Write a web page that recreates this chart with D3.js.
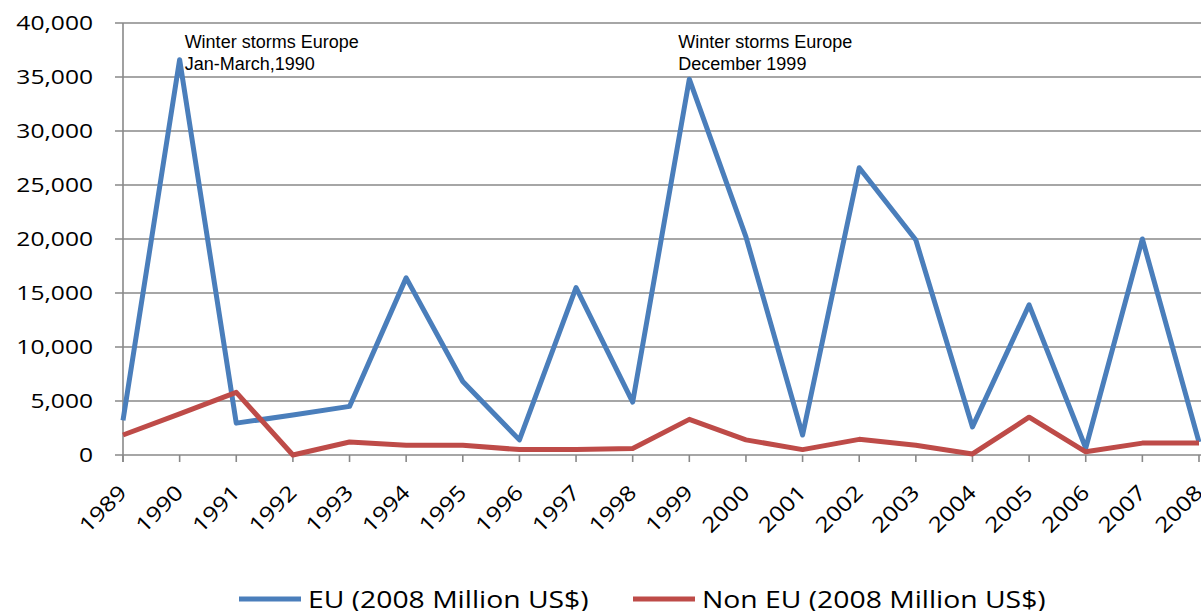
<!DOCTYPE html>
<html>
<head>
<meta charset="utf-8">
<script src="https://cdn.jsdelivr.net/npm/d3@7"></script>
<style>
  body { margin: 0; background: #fff; }
  svg { display: block; }
</style>
</head>
<body>
<div id="wrapper"></div>
<script>
const width = 1201,
    height = 611,
    margin = {top: 23, right: 1, bottom: 156, left: 123};

const years = d3.range(1989, 2009);
const euValues = [3200, 36600, 2950, 3700, 4500, 16400, 6800, 1400, 15500, 4900,
                  34800, 20200, 1850, 26600, 19900, 2600, 13900, 650, 20000, 1200];
const nonEuValues = [1850, 3800, 5800, 0, 1200, 900, 900, 500, 500, 600,
                     3300, 1400, 500, 1450, 900, 100, 3500, 300, 1100, 1100];
const yTicks = [0, 5000, 10000, 15000, 20000, 25000, 30000, 35000, 40000];
const seriesNames = ["EU (2008 Million US$)", "Non EU (2008 Million US$)"];
const seriesColors = ["#4a7ebb", "#be4b48"];
const noteYears = [1990, 1999];
const noteLines = [["Winter storms Europe", "Jan-March,1990"],
                   ["Winter storms Europe", "December 1999"]];
const noteShift = [5, -11];

const svg = d3.select("#wrapper")
    .append("svg")
    .attr("width", width)
    .attr("height", height);

const x = d3.scaleLinear()
    .domain([1989, 2008])
    .range([margin.left, width - margin.right - 1]);

const y = d3.scaleLinear()
    .domain([0, 40000])
    .range([height - margin.bottom, margin.top]);

const gridColor = "#898989";

// gridlines
svg.append("g")
    .selectAll("line")
    .data(yTicks)
    .enter().append("line")
    .attr("x1", margin.left - 8)
    .attr("x2", width)
    .attr("y1", d => y(d))
    .attr("y2", d => y(d))
    .style("stroke", gridColor)
    .style("stroke-width", 1.6);

// y axis
svg.append("line")
    .attr("x1", margin.left).attr("x2", margin.left)
    .attr("y1", y(40000)).attr("y2", y(0) + 7)
    .style("stroke", gridColor)
    .style("stroke-width", 1.6);

svg.append("g")
    .selectAll("text")
    .data(yTicks)
    .enter().append("text")
    .attr("text-anchor", "end")
    .attr("transform", d => "translate(93," + (y(d) + 7) + ") scale(1.23,1)")
    .style("font-family", "'Open Sans', sans-serif")
    .style("font-size", "20px")
    .style("fill", "#000")
    .text(d => d3.format(",")(d));

// x ticks
svg.append("g")
    .selectAll("line")
    .data(years)
    .enter().append("line")
    .attr("x1", d => x(d)).attr("x2", d => x(d))
    .attr("y1", y(0)).attr("y2", y(0) + 7)
    .style("stroke", gridColor)
    .style("stroke-width", 1.6);

svg.append("g")
    .selectAll("text")
    .data(years)
    .enter().append("text")
    .attr("text-anchor", "end")
    .attr("transform", d => "translate(" + (x(d) + 5) + "," + (y(0) + 39) + ") rotate(-45) scale(1.18,1)")
    .style("font-family", "'Open Sans', sans-serif")
    .style("font-size", "21px")
    .style("fill", "#000")
    .text(d => d);

// lines
const line = d3.line()
    .x((d, i) => x(years[i]))
    .y(d => y(d));

svg.append("g")
    .selectAll("path")
    .data([euValues, nonEuValues])
    .enter().append("path")
    .attr("d", line)
    .style("fill", "none")
    .style("stroke", (d, i) => seriesColors[i])
    .style("stroke-width", 5)
    .style("stroke-linejoin", "round");

// annotations
noteYears.forEach(function(yr, k) {
    const t = svg.append("text")
        .attr("y", 48)
        .style("font-family", "'Liberation Sans', Arial, sans-serif")
        .style("font-size", "18px")
        .style("fill", "#000");
    noteLines[k].forEach(function(l, i) {
        t.append("tspan")
            .attr("x", x(yr) + noteShift[k])
            .attr("dy", i === 0 ? 0 : 22)
            .text(l);
    });
});

// legend
const legendX = [239, 633];
const legend = svg.append("g")
    .selectAll("g")
    .data(seriesNames)
    .enter().append("g")
    .attr("transform", (d, i) => "translate(" + legendX[i] + ",599)");

legend.append("line")
    .attr("x1", 0).attr("x2", 62)
    .attr("y1", 0).attr("y2", 0)
    .style("stroke", (d, i) => seriesColors[i])
    .style("stroke-width", 5);

legend.append("text")
    .attr("transform", "translate(69,9) scale(1.18,1)")
    .style("font-family", "'Open Sans', sans-serif")
    .style("font-size", "24px")
    .style("fill", "#000")
    .text(d => d);
</script>
</body>
</html>
